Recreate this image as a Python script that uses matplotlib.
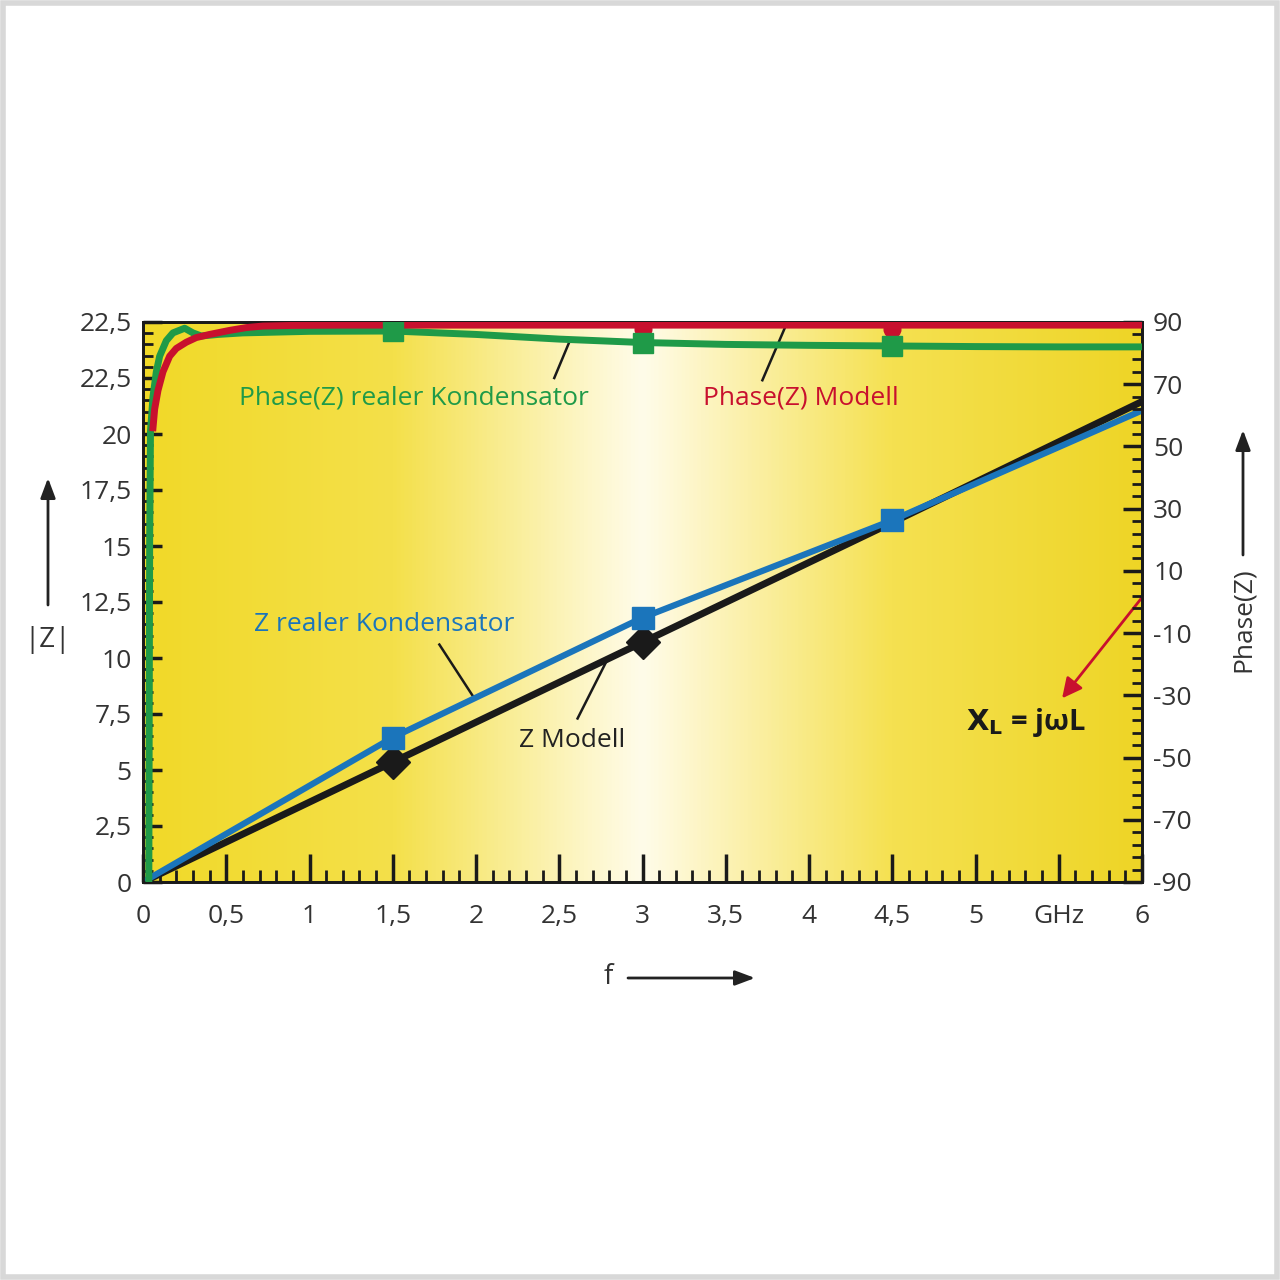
import matplotlib
matplotlib.use('Agg')
import matplotlib.pyplot as plt
from matplotlib.colors import LinearSegmentedColormap
from matplotlib.patches import Rectangle
import numpy as np

plt.rcParams['font.family'] = ['Open Sans', 'DejaVu Sans']
plt.rcParams['axes.unicode_minus'] = False

# frequency axis ticks (GHz)
x_ticks = [0, 0.5, 1, 1.5, 2, 2.5, 3, 3.5, 4, 4.5, 5, 5.5, 6]
x_labels = ['0', '0,5', '1', '1,5', '2', '2,5', '3', '3,5', '4', '4,5', '5', 'GHz', '6']
# |Z| axis ticks
z_ticks = [0, 2.5, 5, 7.5, 10, 12.5, 15, 17.5, 20, 22.5, 25]
z_labels = ['0', '2,5', '5', '7,5', '10', '12,5', '15', '17,5', '20', '22,5', '22,5']
# phase axis ticks
ph_ticks = [-90, -70, -50, -30, -10, 10, 30, 50, 70, 90]

# Z Modell (black)
f_model = [0, 1.5, 3, 4.5, 6]
z_model = [0, 5.35, 10.7, 16.05, 21.45]
# Z realer Kondensator (blue)
f_real = [0, 1.5, 3, 4.5, 6]
z_real = [0, 6.45, 11.8, 16.15, 21.05]
f_mark = [1.5, 3, 4.5]

# Phase(Z) Modell (red)
f_ph_model = [0.06, 0.07, 0.09, 0.12, 0.16, 0.2, 0.26, 0.32, 0.4, 0.52, 0.62, 0.72, 0.9, 1.2, 2, 3, 4, 5, 6]
ph_model = [56, 62, 68, 74, 79, 81.5, 83.5, 85, 86, 87.3, 88.2, 88.7, 88.9, 89, 89, 89, 89, 89, 89]
# Phase(Z) realer Kondensator (green)
f_ph_real = [0.035, 0.04, 0.045, 0.06, 0.08, 0.1, 0.14, 0.18, 0.25, 0.3, 0.35, 0.45, 0.6, 1.0, 1.5, 2.0, 2.5, 3.0, 3.5, 4.0, 4.5, 5.0, 5.5, 6.0]
ph_real = [-90, 20, 55, 66, 74, 79, 84, 86.5, 88, 86.5, 85.5, 86, 86.5, 87, 87.1, 86, 84.5, 83.4, 82.8, 82.5, 82.3, 82.1, 82, 82]
f_ph_mark = [1.5, 3, 4.5]
ph_real_mark = [87.1, 83.4, 82.3]
f_red_dot = [3, 4.5]
ph_red_dot = [87.6, 87.6]

black = '#1a1a1a'
blue = '#1b75bb'
green = '#1f9a48'
red = '#c8102e'

fig = plt.figure(figsize=(12.8, 12.8), dpi=100)
fig.patches.append(Rectangle((0.002, 0.002), 0.996, 0.996, transform=fig.transFigure,
                             fill=False, edgecolor='#d8d8d8', linewidth=4))

ax = fig.add_axes([143 / 1280, 1 - 882 / 1280, 999 / 1280, 560 / 1280])
ax.set_xlim(0, 6)
ax.set_ylim(0, 25)

# horizontal yellow-white-yellow background
cmap = LinearSegmentedColormap.from_list('bg', [
    (0.0, '#f1d928'), (0.25, '#f4e04a'), (0.44, '#fdf6c6'), (0.5, '#fffcea'),
    (0.56, '#fdf5c4'), (0.75, '#f5e151'), (1.0, '#eed526')])
grad = np.linspace(0, 1, 512).reshape(1, -1)
ax.imshow(grad, aspect='auto', cmap=cmap, extent=[0, 6, 0, 25], zorder=0)

ax2 = ax.twinx()
ax2.set_ylim(-90, 90)

# phase curves
ax2.plot(f_ph_real, ph_real, color=green, lw=5, zorder=3, solid_capstyle='butt')
ax2.plot(f_ph_model, ph_model, color=red, lw=5, zorder=4)
ax2.plot(f_red_dot, ph_red_dot, 'o', color=red, ms=12, zorder=4)
ax2.plot(f_ph_mark, ph_real_mark, 's', color=green, ms=15, zorder=5)

# |Z| curves
ax2.set_zorder(ax.get_zorder() + 1)
ax2.patch.set_visible(False)
ax.plot(f_model, z_model, color=black, lw=5, zorder=3)
ax.plot(f_mark[:2], z_model[1:3], 'D', color=black, ms=17, zorder=3)
ax.plot(f_real, z_real, color=blue, lw=4.5, zorder=4)
ax.plot(f_mark, z_real[1:4], 's', color=blue, ms=16, zorder=4)

# ticks
ax.set_xticks(x_ticks)
ax.set_xticklabels(x_labels)
ax.set_xticks(np.arange(0, 6.01, 0.1), minor=True)
ax.set_yticks(z_ticks)
ax.set_yticklabels(z_labels)
ax.set_yticks(np.arange(0, 25.01, 0.5), minor=True)
ax2.set_yticks(ph_ticks)
ax2.set_yticks(np.arange(-90, 90.1, 4), minor=True)
for a in (ax, ax2):
    a.tick_params(which='major', direction='in', length=14, width=2.5, color=black,
                  labelsize=19, labelcolor='#333333')
    a.tick_params(which='minor', direction='in', length=7, width=2, color=black)
    for s in a.spines.values():
        s.set_linewidth(2)
        s.set_color(black)
ax.tick_params(axis='x', which='major', length=20, pad=16)
ax.tick_params(axis='x', which='minor', length=9)
ax.tick_params(axis='y', pad=8)
ax.tick_params(top=False, right=False, which='both')
ax2.tick_params(axis='y', pad=8)

# series labels with leader lines
ax.text(1.63, 21.6, 'Phase(Z) realer Kondensator', color=green, fontsize=19, ha='center', va='center')
ax.plot([2.47, 2.56], [22.5, 24.1], color=black, lw=1.8)
ax.text(3.95, 21.6, 'Phase(Z) Modell', color=red, fontsize=19, ha='center', va='center')
ax.plot([3.72, 3.87], [22.4, 25], color=black, lw=1.8)
ax.text(1.45, 11.5, 'Z realer Kondensator', color=blue, fontsize=19, ha='center', va='center')
ax.plot([1.78, 1.99], [10.6, 8.2], color=black, lw=1.8)
ax.text(2.58, 6.3, 'Z Modell', color='#222222', fontsize=19, ha='center', va='center')
ax.plot([2.61, 2.78], [7.3, 9.8], color=black, lw=1.8)
ax.text(5.3, 7.1, r'$\mathbf{X_L}$' + ' = jωL', color='#1a1a1a', fontsize=21,
        fontweight='bold', ha='center', va='center')
ax.annotate('', xy=(5.52, 8.2), xytext=(6.0, 12.7),
            arrowprops=dict(arrowstyle='-|>,head_length=1.2,head_width=0.6', color=red, lw=2,
                            shrinkA=0, shrinkB=0), zorder=6)

# axis labels with arrows
fig.text(48 / 1280, 1 - 640 / 1280, '|Z|', fontsize=20, color='#333333', ha='center', va='center')
ax.annotate('', xy=(48 / 1280, 1 - 478 / 1280), xytext=(48 / 1280, 1 - 605 / 1280),
            xycoords='figure fraction', textcoords='figure fraction',
            arrowprops=dict(arrowstyle='-|>,head_length=1.2,head_width=0.45', color='#222222', lw=2,
                            shrinkA=0, shrinkB=0))
fig.text(1243 / 1280, 1 - 620 / 1280, 'Phase(Z)', fontsize=19, color='#333333', rotation=90,
         ha='center', va='center')
ax.annotate('', xy=(1243 / 1280, 1 - 430 / 1280), xytext=(1243 / 1280, 1 - 555 / 1280),
            xycoords='figure fraction', textcoords='figure fraction',
            arrowprops=dict(arrowstyle='-|>,head_length=1.2,head_width=0.45', color='#222222', lw=2,
                            shrinkA=0, shrinkB=0))
fig.text(608 / 1280, 1 - 977 / 1280, 'f', fontsize=20, color='#333333', ha='center', va='center')
ax.annotate('', xy=(755 / 1280, 1 - 978 / 1280), xytext=(628 / 1280, 1 - 978 / 1280),
            xycoords='figure fraction', textcoords='figure fraction',
            arrowprops=dict(arrowstyle='-|>,head_length=1.2,head_width=0.45', color='#222222', lw=2,
                            shrinkA=0, shrinkB=0))

fig.savefig('out.png', dpi=100)
